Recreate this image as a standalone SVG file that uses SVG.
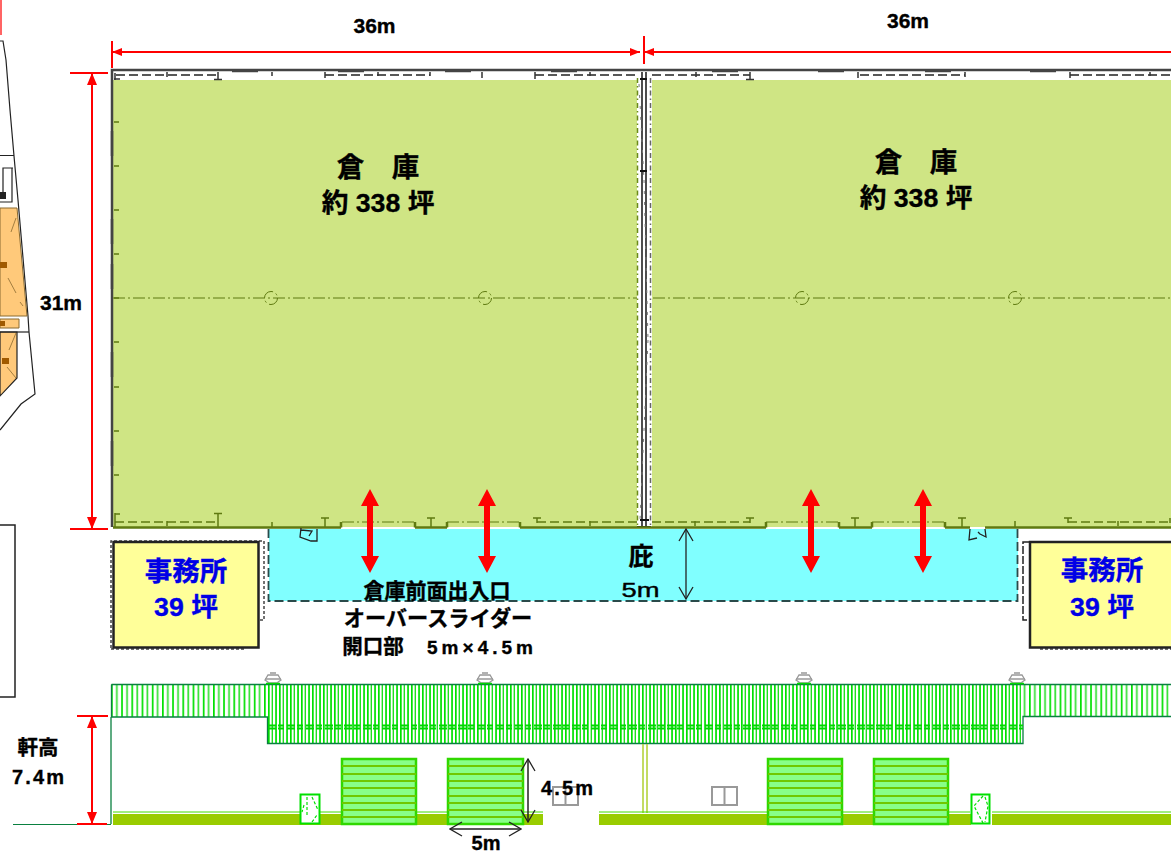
<svg xmlns="http://www.w3.org/2000/svg" width="1171" height="854" viewBox="0 0 1171 854">
<style>
.t{font-family:"Liberation Sans","Noto Sans CJK JP",sans-serif;font-weight:700;fill:#000;stroke:#000;stroke-width:.35;text-anchor:middle}
.b{fill:#0000e6;stroke:#0000e6}
.dim{stroke:#ff0000;stroke-width:2;fill:none}
.big{fill:#ff0000}
.wall{stroke:#444;stroke-width:2.5;fill:none}
.dash{stroke:#222;stroke-width:1.5;fill:none;stroke-dasharray:9 4}
.ol{stroke:#5f7a10;stroke-width:2.5;fill:none}
.oldd{stroke:#5f7a10;stroke-width:1;fill:none;stroke-dasharray:12 3 2 3}
.olh{stroke:#5f7a10;stroke-width:1.5;fill:none;stroke-dasharray:9 4}
.site{stroke:#222;stroke-width:1.2;fill:none}
.dr{fill:#88ff88;stroke:#30d800;stroke-width:2.5}
.sl{stroke:#70c800;stroke-width:2;fill:none}
.blk{stroke:#222;stroke-width:1.3;fill:none}
.grey{stroke:#999;stroke-width:2;fill:none}
.tick{stroke:#5f7a10;stroke-width:1.5;fill:none}
.tk{stroke:#333;stroke-width:1.5;fill:none}
</style>
<defs>
<pattern id="side" x="111" y="0" width="10.200" height="10" patternUnits="userSpaceOnUse">
<rect x="0" width="1.700" height="10" fill="#00e000"/><rect x="5" width="1.700" height="10" fill="#30e030"/>
</pattern>
<pattern id="mid" x="268" y="0" width="11" height="10" patternUnits="userSpaceOnUse">
<rect x="0" width="1.700" height="10" fill="#00e000"/><rect x="3.600" width="1.400" height="10" fill="#20e020"/><rect x="7.200" width="1.700" height="10" fill="#00e000"/>
</pattern>
<marker id="ra" markerWidth="10" markerHeight="8" refX="10" refY="4" orient="auto-start-reverse" markerUnits="userSpaceOnUse"><path d="M0 0L10 4L0 8Z" fill="#ff0000"/></marker>
<marker id="rb" markerWidth="12" markerHeight="10" refX="12" refY="5" orient="auto-start-reverse" markerUnits="userSpaceOnUse"><path d="M0 0L12 5L0 10Z" fill="#ff0000"/></marker>
<marker id="open" markerWidth="14" markerHeight="16" refX="13" refY="8" orient="auto-start-reverse" markerUnits="userSpaceOnUse"><path d="M1 1L13 8L1 15" fill="none" stroke="#222" stroke-width="1.3"/></marker>
<path id="dbl" class="big" d="M0 0L9 17H3V67H9L0 84L-9 67H-3V17H-9Z"/>
<g id="vent"><path d="M0 8L3 3H13L16 8L13 10V11H3V10Z" fill="#fff" stroke="#999" stroke-width="1.300"/><path d="M0 7H16M5 1H11" stroke="#999" stroke-width="1.300"/><path d="M1 11.500H15" stroke="#00d800" stroke-width="1.500"/></g>
</defs>

<g id="site-plan">
<path d="M1 0V35" stroke="#ff3030" stroke-width="1.500" fill="none"/>
<path class="site" d="M0 41H3L6 60L10 110L14 156L18 200L28 316L29 332L35 394L21 404L0 430"/>
<path class="site" stroke-width="1.500" d="M0 155.500H14M13 168H3V196H0M12 168V202H0"/>
<path d="M0 208H17L27 316H0Z" fill="#ffc97a" stroke="#8a6a30" stroke-width="1"/>
<path d="M0 332H17V378L0 396Z" fill="#ffc97a" stroke="#222" stroke-width="1.200"/>
<path d="M0 319H19V328H0Z" fill="#ffc97a" stroke="#8a6a30" stroke-width="1"/>
<rect x="0" y="321" width="5" height="5" fill="#a05a00"/>
<rect x="0" y="262" width="7" height="6" fill="#a05a00"/><rect x="2" y="358" width="7" height="6" fill="#a05a00"/>
<path d="M0 332H29" class="site" stroke-width="1.500"/>
<path d="M16 218L11 232M8 278L16 293M20 302L23 306M16 333L9 350M7 367L16 378" stroke="#8a6a30" stroke-width="0.800" fill="none"/>
<rect x="0" y="192" width="6" height="7" fill="#222"/>
<path d="M0 525H15V697H0" stroke="#222" stroke-width="1.500" fill="none"/>
</g>

<g id="warehouse-left">
<rect x="113" y="80" width="525" height="447" fill="#cfe584"/>
<text class="t" x="378" y="177" font-size="27.500">倉　庫</text>
<text class="t" x="378" y="212" font-size="26.700">約 338 坪</text>
</g>
<g id="warehouse-right">
<rect x="652" y="80" width="519" height="447" fill="#cfe584"/>
<text class="t" x="916" y="172" font-size="27.500">倉　庫</text>
<text class="t" x="916" y="207" font-size="26.700">約 338 坪</text>
</g>

<g id="walls">
<path class="wall" d="M1171 70H112V527"/>
<path class="wall" stroke-width="3.500" d="M112 131V156M112 219V244M112 264V289M112 352V377M112 441V466M232 71H258M338 71H364M445 71H471M551 71H577M712 71H738M818 71H844M925 71H951M1030 71H1056"/>
<path class="dash" d="M116 75H218M325 75H430M535 75H636M652 75H750M860 75H965M1070 75H1171"/>
<path class="tk" d="M115 73V80M114 79H120M218 72V80M214 79.500H222M167 72V77M272 72V76M325 72V78M378 72V76M430 72V76M482 72V78M535 72V79M590 72V76M696 72V77M750 72V80M746 79.500H754M858 72V78M965 72V77M1070 72V78M1150 72V76"/>
<path class="tick" d="M114 122H119M114 166H119M114 210H119M114 254H119M114 298H119M114 342H119M114 387H119M114 431H119M114 475H119"/>
<path class="oldd" d="M113 298H1171"/>
<circle class="oldd" cx="271" cy="298" r="6.500" stroke-dasharray="2 1.500"/><circle class="oldd" cx="485" cy="298" r="6.500" stroke-dasharray="2 1.500"/><circle class="oldd" cx="802" cy="298" r="6.500" stroke-dasharray="2 1.500"/><circle class="oldd" cx="1015" cy="298" r="6.500" stroke-dasharray="2 1.500"/>
<path d="M637 78H652V527H637Z" fill="#fff"/>
<path d="M642 72V527M646 72V527" stroke="#222" stroke-width="1.600" fill="none"/>
<path d="M637.500 78V527" stroke="#6a8a18" stroke-width="1.500" fill="none" stroke-dasharray="5 3 1.500 3"/>
<path d="M650.500 78V527" stroke="#666" stroke-width="1.500" fill="none" stroke-dasharray="5 3 1.500 3"/>
<path d="M639 84L644 180M644 180L648 340M648 340L640 520" stroke="#777" stroke-width="1" stroke-dasharray="3 8" fill="none"/>
<path d="M640 79H647M640 171H647M640 520H649M637 527H651" stroke="#111" stroke-width="2" fill="none"/>
<path class="ol" d="M113 527.500H341M415 527.500H447M520 527.500H766M839 527.500H872M945 527.500H970M985 527.500H1171"/>
<path class="ol" stroke-width="1.500" d="M341 527.500V522M415 527.500V522M447 527.500V522M520 527.500V522M766 527.500V522M839 527.500V522M872 527.500V522M945 527.500V522"/>
<path class="olh" d="M115 522H218M537 522H637M652 522H750M1068 522H1171"/>
<path class="oldd" d="M342 522H415M447 522H520M766 522H839M872 522H945"/>
<path class="tick" d="M115 513V527M115 514H120M218 514V527M214 513.500H222M167 521V526M272 522V527M325 518V527M321 518H329M431 518V527M427 518H435M537 518V523M533 518H541M590 521V526M695 521V526M750 518V523M746 518H754M855 518V527M851 518H859M962 518V527M958 518H966M1015 521V527M1068 518V523M1064 518H1072M1118 521V526M1170 518V523"/>
</g>

<g id="canopy">
<path d="M269 529H1018V601H269Z" fill="#80ffff"/>
<path d="M268.500 529V601H1017.500V529" fill="none" stroke="#2a4a4a" stroke-width="1.800" stroke-dasharray="9 4"/>
<path d="M301 528L300 537L311 541L317 541V529M309 536L312 531L301 530M970 529L969 540L977 538M985 529L986 537L980 534L978 532" class="blk" stroke-width="1.500"/>
<text class="t" x="641" y="565" font-size="25">庇</text>
<text class="t" x="640.500" y="597" font-size="20" style="font-weight:400;stroke-width:.4" textLength="38" lengthAdjust="spacingAndGlyphs">5m</text>
</g>

<g id="office-left">
<path d="M111 648V541H264V620H258M111 649H246" fill="none" stroke="#444" stroke-width="1.500" stroke-dasharray="3 2"/>
<rect x="113.500" y="542" width="145" height="105.500" fill="#ffff99" stroke="#222" stroke-width="2.500"/>
<text class="t b" x="186" y="581" font-size="27.500">事務所</text>
<text class="t b" x="186" y="616" font-size="26.700">39 坪</text>
</g>
<g id="office-right">
<path d="M1029 542H1023V620H1029" fill="none" stroke="#222" stroke-width="1.500" stroke-dasharray="8 2"/>
<path d="M1040 649H1171" fill="none" stroke="#444" stroke-width="1.500" stroke-dasharray="3 2"/>
<rect x="1030" y="542" width="143" height="105.500" fill="#ffff99" stroke="#222" stroke-width="2.500"/>
<text class="t b" x="1102" y="580" font-size="27.500">事務所</text>
<text class="t b" x="1102" y="616" font-size="26.700">39 坪</text>
</g>

<g id="elevation">
<path d="M111 684.500H268V717H111Z" fill="url(#side)"/>
<path d="M1023 684.500H1171V717H1023Z" fill="url(#side)"/>
<path d="M268 684.500H1023V743.500H268Z" fill="url(#mid)"/>
<path d="M111 717V824M111.500 684.500H1171M111.500 684.500V717H267.500V743.500H1023V716.500H1171" stroke="#0a8040" stroke-width="1.300" fill="none"/>
<path d="M268 725.500H1023M268 728.500H1023" stroke="#00d800" stroke-width="2" stroke-dasharray="8 2 6 3"/>
<path d="M643 744V813M647 744V813" stroke="#b0d030" stroke-width="1.500" fill="none"/>
<path d="M13 824.500H111" stroke="#0a8040" stroke-width="1.200"/>
<path d="M113 814H341V825H113ZM415 814H447V825H415ZM523 814H543V825H523ZM599 814H767V825H599ZM842 814H873V825H842ZM949 814H971V825H949ZM992 814H1171V825H992Z" fill="#99cc00"/>
<path d="M113 812H341M415 812H447M523 812H543M599 812H767M842 812H873M949 812H970M992 812H1171" stroke="#40dd00" stroke-width="1"/>
<g id="shutters">
<rect x="342" y="759" width="74" height="65" class="dr"/><rect x="448" y="759" width="75" height="65" class="dr"/><rect x="768" y="759" width="74" height="65" class="dr"/><rect x="874" y="759" width="74" height="65" class="dr"/>
<path class="sl" d="M342 766H416M342 774H416M342 781H416M342 788H416M342 796H416M342 803H416M342 810H416M342 817H416M448 766H523M448 774H523M448 781H523M448 788H523M448 796H523M448 803H523M448 810H523M448 817H523M768 766H842M768 774H842M768 781H842M768 788H842M768 796H842M768 803H842M768 810H842M768 817H842M874 766H948M874 774H948M874 781H948M874 788H948M874 796H948M874 803H948M874 810H948M874 817H948"/>
</g>
<g id="doors" fill="#fff" stroke="#00e000" stroke-width="2">
<rect x="300.500" y="794.500" width="19" height="29"/><rect x="971.500" y="794.500" width="18" height="29"/>
<path d="M307 797V815M312 797L318 810M304 805L302 812M312 822L317 815M983 796L974 806L983 823M985 797L988 806L985 822" fill="none" stroke-width="1.200" stroke-dasharray="3 2"/>
</g>
<path class="grey" d="M553 787H578V805H553ZM565.500 787V805M712 787H737V805H712ZM724.500 787V805"/>
<g id="vents">
<use href="#vent" x="265" y="672"/><use href="#vent" x="477" y="672"/><use href="#vent" x="796" y="672"/><use href="#vent" x="1009" y="672"/>
</g>
</g>

<g id="connectors">
<path class="dim" d="M112 41V68M644 36V64M70 73H108M70 529H108M77 716H108M77 824H107"/>
<path class="dim" d="M112 52H640" marker-start="url(#ra)" marker-end="url(#ra)"/>
<path class="dim" d="M644 52H1171" marker-start="url(#ra)"/>
<path class="dim" d="M92 73V529" marker-start="url(#rb)" marker-end="url(#rb)"/>
<path class="dim" d="M92 716V824" marker-start="url(#rb)" marker-end="url(#rb)"/>
<use href="#dbl" x="370" y="489"/><use href="#dbl" x="487" y="489"/><use href="#dbl" x="811" y="489"/><use href="#dbl" x="923" y="489"/>
<path d="M686 529V599" stroke="#222" stroke-width="1.300" marker-start="url(#open)" marker-end="url(#open)"/>
<path d="M528 759V822" stroke="#222" stroke-width="1.500" marker-start="url(#open)" marker-end="url(#open)"/>
<path d="M450 829H521" stroke="#222" stroke-width="1.500" marker-start="url(#open)" marker-end="url(#open)"/>
</g>

<g id="labels">
<text class="t" x="374.500" y="33" font-size="21">36m</text>
<text class="t" x="908" y="28" font-size="21">36m</text>
<text class="t" x="61" y="310" font-size="21">31m</text>
<text class="t" x="437" y="598" font-size="21">倉庫前面出入口</text>
<text class="t" x="438" y="626" font-size="21.200">オーバースライダー</text>
<text class="t" x="373" y="654" font-size="20.500">開口部</text>
<text class="t" x="480" y="654" font-size="19" textLength="106">5m×4.5m</text>
<text class="t" x="38" y="755" font-size="20.500">軒高</text>
<text class="t" x="38" y="784" font-size="20" textLength="52">7.4m</text>
<text class="t" x="567" y="795" font-size="20" textLength="52">4.5m</text>
<text class="t" x="486" y="849.500" font-size="20">5m</text>
</g>
</svg>
